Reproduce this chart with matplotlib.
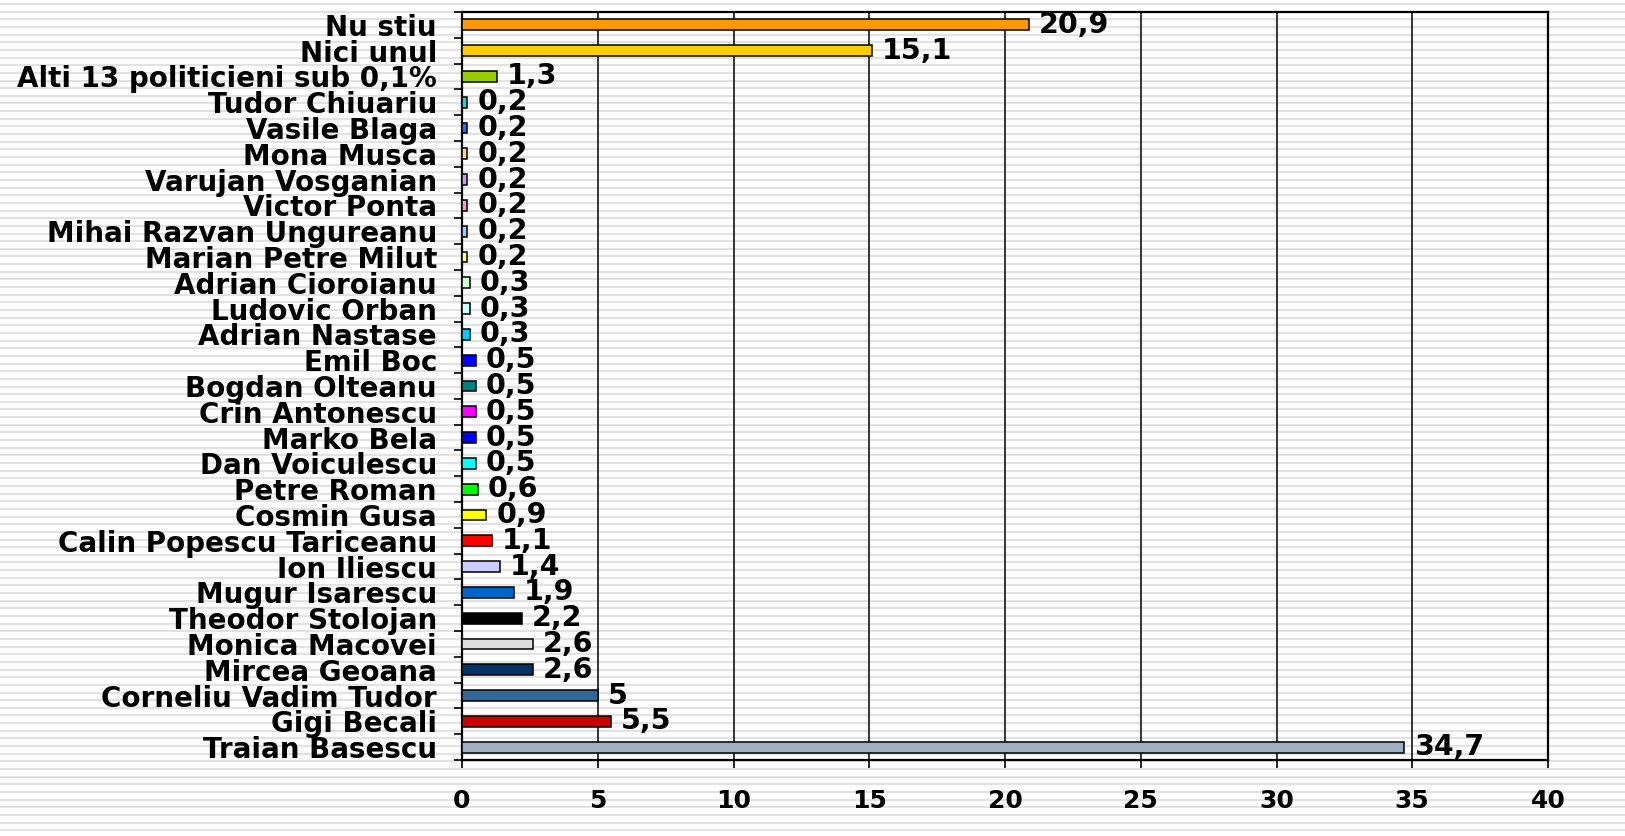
import numpy as np
import matplotlib.pyplot as plt
from matplotlib.ticker import FixedLocator

# data, bottom row first
names = ['Traian Basescu', 'Gigi Becali', 'Corneliu Vadim Tudor', 'Mircea Geoana',
         'Monica Macovei', 'Theodor Stolojan', 'Mugur Isarescu', 'Ion Iliescu',
         'Calin Popescu Tariceanu', 'Cosmin Gusa', 'Petre Roman', 'Dan Voiculescu',
         'Marko Bela', 'Crin Antonescu', 'Bogdan Olteanu', 'Emil Boc',
         'Adrian Nastase', 'Ludovic Orban', 'Adrian Cioroianu', 'Marian Petre Milut',
         'Mihai Razvan Ungureanu', 'Victor Ponta', 'Varujan Vosganian', 'Mona Musca',
         'Vasile Blaga', 'Tudor Chiuariu', 'Alti 13 politicieni sub 0,1%',
         'Nici unul', 'Nu stiu']
values = [34.7, 5.5, 5, 2.6, 2.6, 2.2, 1.9, 1.4, 1.1, 0.9, 0.6, 0.5, 0.5, 0.5, 0.5, 0.5,
          0.3, 0.3, 0.3, 0.2, 0.2, 0.2, 0.2, 0.2, 0.2, 0.2, 1.3, 15.1, 20.9]
colors = ['#9eb0c2', '#cc0000', '#336699', '#003366', '#dddddd', '#000000', '#0066cc',
          '#ccccff', '#ff0000', '#ffff00', '#00ff00', '#00ffff', '#0000ff', '#ff00ff',
          '#008080', '#0000ff', '#00ccff', '#ccffff', '#ccffcc', '#ffff99', '#99ccff',
          '#ff99cc', '#cc99ff', '#ffcc99', '#3366ff', '#33cccc', '#99cc00', '#ffcc00',
          '#ff9900']
xticks = np.arange(0, 41, 5)

fig = plt.figure(figsize=(16.25, 8.36), dpi=100)

# striped slide background
bg = fig.add_axes([0, 0, 1, 1], zorder=-10)
bg.set_xlim(0, 1)
bg.set_ylim(836, 0)
for y in np.arange(4, 836, 7.65):
    bg.axhline(y, color='#e2e2e2', lw=1.6)
bg.axis('off')

ax = fig.add_axes([462/1625, 1 - 760/836, 1086/1625, 748/836])
ax.patch.set_alpha(0)

pos = np.arange(len(names))
ax.barh(pos, values, height=0.42, color=colors, edgecolor='black', linewidth=1.1, zorder=3)

for p, v in zip(pos, values):
    txt = ('%g' % v).replace('.', ',')
    ax.annotate(txt, (v, p), xytext=(7, 0), textcoords='offset points',
                va='center', ha='left', fontsize=20.5, fontweight='bold', zorder=4)

ax.set_xlim(0, 40)
ax.set_ylim(-0.5, len(names) - 0.5)
ax.set_xticks(xticks)
ax.set_xticklabels([str(t) for t in xticks], fontsize=18, fontweight='bold')
ax.tick_params(axis='x', direction='out', length=6, width=1.2, pad=15)

ax.set_yticks(pos)
ax.set_yticklabels(names, fontsize=20, fontweight='bold')
ax.yaxis.set_minor_locator(FixedLocator(np.arange(-0.5, len(names), 1)))
ax.tick_params(axis='y', which='major', length=0, pad=18)
ax.tick_params(axis='y', which='minor', direction='out', length=6, width=1.2)

ax.grid(axis='x', color='black', lw=1.1, zorder=1)
for s in ax.spines.values():
    s.set_linewidth(1.6)

fig.savefig('out.png', dpi=100)
